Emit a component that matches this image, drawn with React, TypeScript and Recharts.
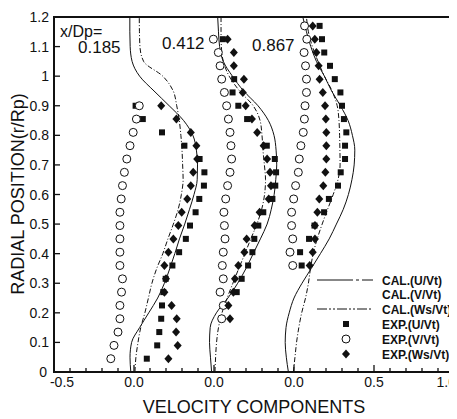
import { ComposedChart, Line, Scatter, XAxis, YAxis, ReferenceArea } from "recharts";

// axial stations and where each profile's zero sits on the shared x axis
const stations = ["0.185", "0.412", "0.867"];
const stationZero = [-1.0, -0.5, 0.0];

// calculated profiles (on a common r/Rp grid)
const calcR = [0, 0.05, 0.1, 0.15, 0.2, 0.25, 0.3, 0.35, 0.4, 0.45, 0.5, 0.55, 0.6, 0.65, 0.7, 0.75, 0.8, 0.85, 0.9, 0.95, 1.0, 1.05, 1.1, 1.15, 1.2];
const calcU185 = [-0.02, -0.025, -0.015, 0.035, 0.092, 0.148, 0.19, 0.224, 0.255, 0.284, 0.317, 0.347, 0.375, 0.395, 0.397, 0.39, 0.368, 0.31, 0.22, 0.125, 0.035, -0.012, -0.024, -0.026, -0.026];
const calcWs185 = [0.006, 0.012, 0.025, 0.042, 0.068, 0.09, 0.112, 0.142, 0.18, 0.212, 0.246, 0.276, 0.296, 0.307, 0.304, 0.3, 0.293, 0.283, 0.267, 0.245, 0.18, 0.06, 0.037, 0.034, 0.033];
const calcU412 = [-0.015, -0.022, -0.028, -0.024, 0.015, 0.087, 0.148, 0.2, 0.245, 0.29, 0.332, 0.358, 0.376, 0.386, 0.392, 0.388, 0.375, 0.34, 0.275, 0.185, 0.115, 0.058, 0.035, 0.028, 0.023];
const calcWs412 = [0.006, 0.01, 0.016, 0.028, 0.05, 0.082, 0.118, 0.155, 0.193, 0.23, 0.268, 0.298, 0.316, 0.322, 0.315, 0.306, 0.3, 0.288, 0.245, 0.16, 0.095, 0.058, 0.046, 0.044, 0.044];
const calcU867 = [-0.035, -0.048, -0.055, -0.05, -0.03, 0.0, 0.05, 0.108, 0.165, 0.22, 0.265, 0.308, 0.34, 0.362, 0.376, 0.38, 0.365, 0.338, 0.29, 0.235, 0.19, 0.14, 0.105, 0.078, 0.055];
const calcWs867 = [-0.004, 0.006, 0.016, 0.03, 0.048, 0.072, 0.09, 0.103, 0.12, 0.145, 0.176, 0.21, 0.245, 0.275, 0.288, 0.287, 0.285, 0.281, 0.27, 0.238, 0.19, 0.15, 0.115, 0.09, 0.078];

// measured points
const expR185 = [0.045, 0.09, 0.135, 0.18, 0.225, 0.27, 0.315, 0.36, 0.405, 0.45, 0.495, 0.54, 0.585, 0.63, 0.675, 0.72, 0.765, 0.81, 0.855, 0.9];
const expU185 = [0.08, 0.145, 0.158, 0.17, 0.175, 0.183, 0.198, 0.24, 0.282, 0.324, 0.35, 0.385, 0.408, 0.437, 0.44, 0.41, 0.315, 0.175, 0.055, 0.01];
const expV185 = [-0.145, -0.125, -0.1, -0.088, -0.088, -0.078, -0.072, -0.088, -0.088, -0.088, -0.088, -0.088, -0.08, -0.072, -0.06, -0.045, -0.025, -0.005, 0.015, 0.033];
const expWs185 = [0.215, 0.273, 0.263, 0.267, 0.235, 0.19, 0.2, 0.19, 0.215, 0.246, 0.277, 0.298, 0.333, 0.355, 0.37, 0.395, 0.39, 0.355, 0.265, 0.17];

const expR412 = [0.18, 0.225, 0.27, 0.315, 0.36, 0.405, 0.45, 0.495, 0.54, 0.585, 0.63, 0.675, 0.72, 0.765, 0.81, 0.855, 0.9, 0.945, 0.99, 1.035, 1.08, 1.125];
const expV412 = [0.048, 0.058, 0.038, 0.058, 0.052, 0.058, 0.069, 0.065, 0.062, 0.073, 0.085, 0.1, 0.11, 0.106, 0.1, 0.09, 0.079, 0.065, 0.048, 0.038, 0.027, -0.004];
const expWs412 = [0.1, 0.09, 0.121, 0.131, 0.152, 0.19, 0.204, 0.254, 0.285, 0.342, 0.356, 0.35, 0.332, 0.31, 0.27, 0.237, 0.198, 0.18, 0.187, 0.124, 0.124, 0.085];
const expRU412 = [0.27, 0.315, 0.36, 0.405, 0.45, 0.495, 0.54, 0.585, 0.63, 0.675, 0.72, 0.765, 0.855, 0.9, 0.945, 0.99, 1.125];
const expU412 = [0.142, 0.173, 0.213, 0.24, 0.252, 0.277, 0.308, 0.365, 0.383, 0.388, 0.38, 0.33, 0.207, 0.152, 0.116, 0.126, 0.055];

const expR867 = [0.36, 0.405, 0.45, 0.495, 0.54, 0.585, 0.63, 0.675, 0.72, 0.765, 0.81, 0.855, 0.9, 0.945, 0.99, 1.035, 1.08, 1.125, 1.17];
const expU867 = [0.048, 0.038, 0.094, 0.128, 0.188, 0.218, 0.275, 0.292, 0.319, 0.319, 0.327, 0.312, 0.3, 0.29, 0.255, 0.225, 0.189, 0.175, 0.16];
const expV867 = [-0.008, -0.025, -0.008, -0.015, -0.015, -0.002, 0.01, 0.027, 0.033, 0.043, 0.058, 0.065, 0.069, 0.078, 0.078, 0.072, 0.063, 0.08, 0.066];
const expWs867 = [0.098, 0.117, 0.131, 0.131, 0.146, 0.158, 0.183, 0.196, 0.202, 0.202, 0.202, 0.199, 0.194, 0.18, 0.16, 0.154, 0.14, 0.13, 0.117];

// axes
const xTicks = [-1.5, -1.4, -1.3, -1.2, -1.1, -1.0, -0.9, -0.8, -0.7, -0.6, -0.5, -0.4, -0.3, -0.2, -0.1, 0, 0.1, 0.2, 0.3, 0.4, 0.5, 0.6, 0.7, 0.8, 0.9, 1.0];
const xMajorTicks = [-1.5, -1.0, -0.5, 0, 0.5, 1.0];
const xMajorLabels = ["-0.5", "0.0", "0.0", "0.0", "0.5", "1.0"];
const yTicks = [0, 0.1, 0.2, 0.3, 0.4, 0.5, 0.6, 0.7, 0.8, 0.9, 1.0, 1.1, 1.2];
const yTickLabels = ["0", "0.1", "0.2", "0.3", "0.4", "0.5", "0.6", "0.7", "0.8", "0.9", "1", "1.1", "1.2"];

const legendItems = ["CAL.(U/Vt)", "CAL.(V/Vt)", "CAL.(Ws/Vt)", "EXP.(U/Vt)", "EXP.(V/Vt)", "EXP.(Ws/Vt)"];

const FONT = "'Liberation Sans', Arial, Helvetica, sans-serif";
const INK = "#111";

const place = (rs: number[], vs: number[], zero: number) => rs.map((r, i) => ({ r, x: +(vs[i] + zero).toFixed(4) }));

const calcU = [calcU185, calcU412, calcU867];
const calcWs = [calcWs185, calcWs412, calcWs867];

const uPoints = [
  ...place(expR185, expU185, stationZero[0]),
  ...place(expRU412, expU412, stationZero[1]),
  ...place(expR867, expU867, stationZero[2]),
];
const vPoints = [
  ...place(expR185, expV185, stationZero[0]),
  ...place(expR412, expV412, stationZero[1]),
  ...place(expR867, expV867, stationZero[2]),
];
const wsPoints = [
  ...place(expR185, expWs185, stationZero[0]),
  ...place(expR412, expWs412, stationZero[1]),
  ...place(expR867, expWs867, stationZero[2]),
];

const Square = (p: any) => <rect x={p.cx - 3} y={p.cy - 3} width={6} height={6} fill={INK} />;
const Ring = (p: any) => <circle cx={p.cx} cy={p.cy} r={4} fill="#fff" stroke={INK} strokeWidth={1} />;
const Diamond = (p: any) => (
  <path d={`M${p.cx},${p.cy - 4.5}L${p.cx + 4},${p.cy}L${p.cx},${p.cy + 4.5}L${p.cx - 4},${p.cy}Z`} fill={INK} />
);

function XTick(props: any) {
  const { x, y, payload } = props;
  const idx = xMajorTicks.findIndex((t) => Math.abs(t - payload.value) < 1e-6);
  const major = idx >= 0;
  // first label nudged right off the "0" of the y axis, last one kept inside the page
  const last = idx === xMajorTicks.length - 1;
  return (
    <g>
      <line x1={x} y1={y} x2={x} y2={y - (major ? 7 : 4)} stroke={INK} strokeWidth={1.3} />
      {major && (
        <text
          x={idx === 0 ? x + 8 : last ? x + 2 : x}
          y={y + 15}
          textAnchor={last ? "end" : "middle"}
          fontSize={14}
          fill={INK}
          fontFamily={FONT}
        >
          {xMajorLabels[idx]}
        </text>
      )}
    </g>
  );
}

function YTick(props: any) {
  const { x, y, payload } = props;
  const idx = yTicks.findIndex((t) => Math.abs(t - payload.value) < 1e-6);
  return (
    <g>
      <line x1={x} y1={y} x2={x + 6} y2={y} stroke={INK} strokeWidth={1.3} />
      <text x={idx === 0 ? x - 7 : x - 5} y={y + 5} textAnchor="end" fontSize={14} fill={INK} fontFamily={FONT}>
        {yTickLabels[idx]}
      </text>
    </g>
  );
}

function LegendBox() {
  const rowY = [272, 286.5, 301, 316, 331, 346];
  return (
    <g fontFamily={FONT}>
      <line x1={309} x2={365} y1={rowY[0]} y2={rowY[0]} stroke={INK} strokeDasharray="36 3 3 3 11" />
      <line x1={309} x2={365} y1={rowY[2]} y2={rowY[2]} stroke={INK} strokeDasharray="10 2 2 2 2 2" />
      <rect x={335} y={rowY[3] - 3} width={6} height={6} fill={INK} />
      <circle cx={338} cy={rowY[4]} r={4} fill="#fff" stroke={INK} />
      <path d={`M338,${rowY[5] - 4.5}L342,${rowY[5]}L338,${rowY[5] + 4.5}L334,${rowY[5]}Z`} fill={INK} />
      {legendItems.map((t, i) => (
        <text key={t} x={374} y={rowY[i] + 4.5} fontSize={12} fontWeight="bold" fill={INK}>
          {t}
        </text>
      ))}
    </g>
  );
}

export default function App() {
  return (
    <div style={{ position: "relative", width: 449, height: 411, fontFamily: FONT }}>
      <ComposedChart width={449} height={411} margin={{ top: 9, right: 3, bottom: 0, left: 0 }}>
        <XAxis
          type="number"
          dataKey="x"
          domain={[-1.5, 1.0]}
          ticks={xTicks}
          interval={0}
          allowDataOverflow
          axisLine={false}
          tickLine={false}
          tickSize={0}
          tickMargin={0}
          height={47}
          tick={XTick}
        />
        <YAxis
          type="number"
          dataKey="r"
          domain={[0, 1.2]}
          ticks={yTicks}
          interval={0}
          allowDataOverflow
          axisLine={false}
          tickLine={false}
          tickSize={0}
          tickMargin={0}
          width={46}
          tick={YTick}
        />
        <ReferenceArea x1={-1.5} x2={1.0} y1={0} y2={1.2} fill="none" stroke={INK} strokeWidth={2} />
        {calcU.map((vals, i) => (
          <Line
            key={"cu" + stations[i]}
            data={place(calcR, vals, stationZero[i])}
            dataKey="r"
            type="monotoneY"
            stroke={INK}
            strokeWidth={1}
            dot={false}
            isAnimationActive={false}
          />
        ))}
        {calcWs.map((vals, i) => (
          <Line
            key={"cw" + stations[i]}
            data={place(calcR, vals, stationZero[i])}
            dataKey="r"
            type="monotoneY"
            stroke={INK}
            strokeWidth={1}
            strokeDasharray="5 2 1 2"
            dot={false}
            isAnimationActive={false}
          />
        ))}
        <Scatter data={uPoints} shape={Square} isAnimationActive={false} />
        <Scatter data={vPoints} shape={Ring} isAnimationActive={false} />
        <Scatter data={wsPoints} shape={Diamond} isAnimationActive={false} />
      </ComposedChart>
      <svg width={449} height={411} style={{ position: "absolute", left: 0, top: 0, pointerEvents: "none" }}>
        <g fontFamily={FONT} fill={INK}>
          <text x={52} y={29} fontSize={16}>x/Dp=</text>
          <text x={70} y={45} fontSize={17}>{stations[0]}</text>
          <text x={154} y={41} fontSize={17}>{stations[1]}</text>
          <text x={244} y={43} fontSize={17}>{stations[2]}</text>
          <text x={246} y={405} fontSize={18} textAnchor="middle">VELOCITY COMPONENTS</text>
          <text transform="translate(16,186) rotate(-90)" fontSize={18} textAnchor="middle">RADIAL POSITION(r/Rp)</text>
        </g>
        <LegendBox />
      </svg>
    </div>
  );
}
